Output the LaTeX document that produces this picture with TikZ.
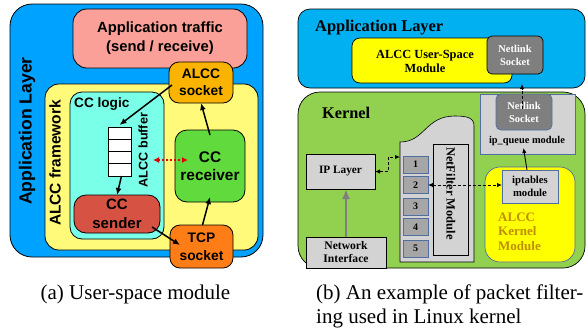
\documentclass[tikz,border=0pt]{standalone}
\usepackage{fontspec}
\setmainfont{Liberation Serif}
\newfontfamily\hvf{Liberation Sans}
\newfontfamily\tmf{Liberation Serif}
\usetikzlibrary{arrows.meta,calc}
\definecolor{lblue}{RGB}{0,162,255}
\definecolor{lpink}{RGB}{250,160,152}
\definecolor{lyel}{RGB}{255,250,122}
\definecolor{lcyan}{RGB}{122,255,232}
\definecolor{lred}{RGB}{214,82,66}
\definecolor{lgreen}{RGB}{96,218,60}
\definecolor{lsock}{RGB}{250,180,0}
\definecolor{ltcp}{RGB}{255,125,22}
\definecolor{rblue}{RGB}{0,176,240}
\definecolor{ryel}{RGB}{255,255,0}
\definecolor{rgray}{RGB}{127,127,127}
\definecolor{rgreen}{RGB}{146,208,80}
\definecolor{rlgray}{RGB}{211,211,211}
\definecolor{rbord}{RGB}{80,110,160}
\definecolor{rnum}{RGB}{166,166,166}
\definecolor{rgold}{RGB}{191,144,0}
\tikzset{
  lbox/.style={draw=black,line width=0.8pt,rounded corners=#1,inner sep=0pt,outer sep=0pt,align=center},
  lbox/.default=12pt,
  ltxt/.style={font=\hvf\bfseries\fontsize{14}{18}\selectfont,align=center,inner sep=0pt},
  larr/.style={line width=1.5pt,-{Latex[length=7pt,width=6pt]}},
  rbox/.style={draw=#1,line width=0.7pt,inner sep=0pt,outer sep=0pt,align=center},
  rbox/.default=black,
  rtxt/.style={font=\bfseries\fontsize{11}{13}\selectfont,align=center,inner sep=0pt},
  rdash/.style={line width=0.9pt,dash pattern=on 3pt off 2pt},
  rtip/.tip={Latex[length=5pt,width=4.5pt]},
  captxt/.style={font=\tmf\fontsize{21}{24}\selectfont,inner sep=0pt}
}
\begin{document}
\begin{tikzpicture}[x=1pt,y=-1pt]
\useasboundingbox (0,0) rectangle (588,333);
% ---------------- left panel ----------------
\node[lbox=22pt,fill=lblue,minimum width=253pt,minimum height=253pt] (louter) at (136.5,130.5) {};
\node[ltxt,rotate=90,font=\hvf\bfseries\fontsize{17.6}{20}\selectfont] (lapp) at (27,131) {Application Layer};
\node[lbox=14pt,fill=lpink,minimum width=174pt,minimum height=59pt,font=\hvf\bfseries\fontsize{14.8}{19}\selectfont] (traffic) at (160,38.5) {Application traffic\\(send / receive)};
\node[lbox=14pt,fill=lyel,minimum width=213pt,minimum height=166pt] (frame) at (151.5,167) {};
\node[ltxt,rotate=90,font=\hvf\bfseries\fontsize{15.5}{18}\selectfont] (lframe) at (55,163) {ALCC framework};
\node[lbox=12pt,fill=lcyan,minimum width=94pt,minimum height=147pt] (logic) at (117,165.5) {};
\node[ltxt,anchor=west,font=\hvf\bfseries\fontsize{13.6}{16}\selectfont] (llogic) at (74,104) {CC logic};
\node[lbox=10pt,fill=lsock,minimum width=64pt,minimum height=41pt,font=\hvf\bfseries\fontsize{13.8}{17}\selectfont] (asock) at (201,82.5) {ALCC\\socket};
\node[lbox=12pt,fill=lgreen,minimum width=70pt,minimum height=72pt,font=\hvf\bfseries\fontsize{15.4}{18}\selectfont] (recv) at (210,166) {CC\\receiver};
\node[lbox=12pt,fill=lred,minimum width=86pt,minimum height=38pt,font=\hvf\bfseries\fontsize{15}{19}\selectfont] (send) at (117,214) {CC\\sender};
\node[lbox=10pt,fill=ltcp,minimum width=63pt,minimum height=43pt,font=\hvf\bfseries\fontsize{13.8}{18}\selectfont] (tcp) at (201.5,246.5) {TCP\\socket};
\foreach \i/\y in {1/133.1,2/145.4,3/157.6,4/169.9}{
  \node[draw=black,line width=0.7pt,fill=white,minimum width=23pt,minimum height=12.25pt,inner sep=0pt,outer sep=0pt] (buf\i) at (119.5,\y) {};
}
\node[ltxt,rotate=90,font=\hvf\bfseries\fontsize{12.6}{15}\selectfont] (lbuf) at (143,150) {ALCC buffer};
\draw[larr] ([xshift=3pt,yshift=18pt]asock.south west) -- ([yshift=2pt]buf1.north);
\draw[larr] ([xshift=2pt]buf4.south) -- (send.north);
\draw[larr] ([xshift=-8pt,yshift=6pt]send.south east) -- ([xshift=10pt,yshift=-20pt]tcp.north west);
\draw[larr] ([xshift=1pt]tcp.north) -- ([yshift=5pt]recv.south);
\draw[larr] ([yshift=-5pt]recv.north) -- (asock.south);
\draw[line width=1.6pt,red!90!black,dash pattern=on 2pt off 2pt,{Latex[length=6pt,width=6pt]}-{Latex[length=6pt,width=6pt]}]
  ([xshift=-22pt,yshift=6pt]recv.west) -- ([xshift=13pt,yshift=6pt]recv.west);
% ---------------- right panel ----------------
\node[rbox,fill=rblue,rounded corners=12pt,minimum width=287pt,minimum height=79pt] (rapp) at (441.5,48.5) {};
\node[rtxt,anchor=base west,font=\tmf\bfseries\fontsize{16.4}{19}\selectfont] (rapptxt) at (315,31) {Application Layer};
\node[rbox,fill=ryel,rounded corners=8pt,minimum width=160pt,minimum height=45pt] (umod) at (432,60.5) {};
\node[rtxt,font=\tmf\bfseries\fontsize{12.4}{14}\selectfont] (umodtxt) at (425,61) {ALCC User-Space\\Module};
\node[rbox,fill=rgray,rounded corners=5pt,minimum width=56pt,minimum height=38pt,text=white,font=\tmf\bfseries\fontsize{10.5}{13}\selectfont] (nl1) at (515,55) {Netlink\\Socket};
\node[rbox,fill=rgreen,rounded corners=22pt,minimum width=287pt,minimum height=176pt] (kern) at (441.5,180) {};
\node[rtxt,anchor=base west,font=\tmf\bfseries\fontsize{16.3}{19}\selectfont] (kerntxt) at (322,118) {Kernel};
\node[rbox=rbord,fill=rlgray,minimum width=95pt,minimum height=60pt] (ipq) at (527.5,124) {};
\node[rbox=rbord,fill=rgray,rounded corners=5pt,minimum width=56pt,minimum height=36pt,text=white,font=\tmf\bfseries\fontsize{10.5}{13}\selectfont] (nl2) at (524,112) {Netlink\\Socket};
\node[rtxt,font=\tmf\bfseries\fontsize{10.4}{12}\selectfont] (ipqtxt) at (527,141) {ip\_queue module};
\draw[rdash,-{rtip}] ([xshift=-2pt,yshift=-15pt]nl2.north) -- ([xshift=7pt,yshift=-10pt]nl1.south);
% netfilter shape
\coordinate (nfin) at (400,157);
\draw[fill=rlgray,line width=0.6pt] (400,262) -- (400,142) .. controls (425,142) and (425,116) .. (455,116) .. controls (468,116) and (474,118) .. (474,126) -- (474,262) -- cycle;
\node[rbox,fill=rlgray,minimum width=35pt,minimum height=111pt] (nfm) at (450.5,199.5) {};
\node[rtxt,rotate=-90,font=\tmf\bfseries\fontsize{12.5}{14}\selectfont] (nfmtxt) at (451,193.5) {NetFilter Module};
\foreach \i/\y in {1/164.5,2/185,3/206.5,4/227,5/248.5}{
  \node[rbox=rbord,fill=rnum,minimum width=25pt,minimum height=17pt,font=\tmf\bfseries\fontsize{10}{12}\selectfont] (nb\i) at (415.5,\y) {\i};
}
\node[rbox,fill=rlgray,minimum width=69pt,minimum height=35pt,font=\tmf\bfseries\fontsize{11.3}{13}\selectfont] (ipl) at (340.5,171.5) {IP Layer};
\node[rbox,fill=rlgray,minimum width=80pt,minimum height=31pt,font=\tmf\bfseries\fontsize{11.6}{13}\selectfont] (net) at (346,252.5) {Network\\Interface};
\draw[line width=2pt,rgray,-{Latex[length=10pt,width=8pt]}] (net.north) -- (net.north |- ipl.south);
\node[rbox=rbord,fill=ryel,rounded corners=15pt,minimum width=90pt,minimum height=95pt] (kmod) at (530,214.5) {};
\node[rtxt,anchor=base west,text=rgold,font=\tmf\bfseries\fontsize{13}{15}\selectfont] (k1) at (498,221) {ALCC};
\node[rtxt,anchor=base west,text=rgold,font=\tmf\bfseries\fontsize{13}{15}\selectfont] (k2) at (498,235.5) {Kernel};
\node[rtxt,anchor=base west,text=rgold,font=\tmf\bfseries\fontsize{13}{15}\selectfont] (k3) at (498,250) {Module};
\node[rbox=rbord,fill=rlgray,minimum width=56pt,minimum height=33pt,font=\tmf\bfseries\fontsize{10.7}{12.5}\selectfont] (ipt) at (530,186.5) {iptables\\module};
\draw[line width=0.9pt,-{rtip}] ([xshift=-3pt]ipt.north) -- ([xshift=-4pt,yshift=6pt]ipq.south);
\draw[rdash,{rtip}-{rtip}] (ipl.east) -- ++(13,0) |- (nfin);
\draw[rdash,{rtip}-{rtip}] (nb2.east) -- (nb2.east -| ipt.west);
% ---------------- captions ----------------
\node[captxt,anchor=base] (capa) at (135.5,299.5) {(a) User-space module};
\node[captxt,anchor=base west] (capb1) at (316,299.5) {(b) An example of packet filter-};
\node[captxt,anchor=base west] (capb2) at (316,323.5) {ing used in Linux kernel};
\end{tikzpicture}
\end{document}
